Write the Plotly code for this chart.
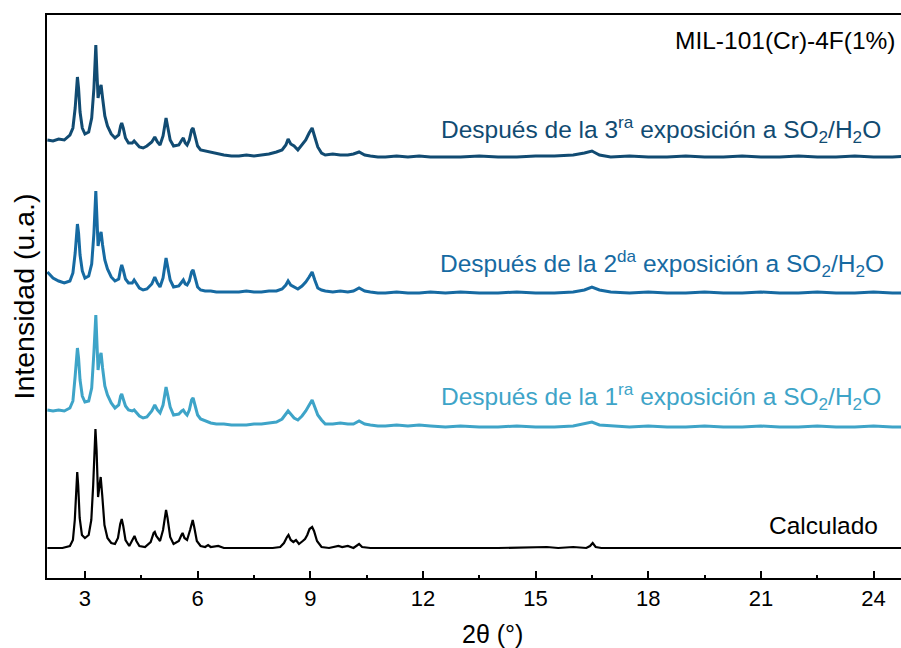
import plotly.graph_objects as go

# 2-theta grid shared by the three measured patterns
two_theta_exp = [
    2.0, 2.15, 2.3, 2.45, 2.6,
    2.68, 2.74, 2.78, 2.8, 2.83, 2.87, 2.93,
    3.0, 3.1, 3.18, 3.24, 3.27, 3.29, 3.32, 3.35, 3.39, 3.43, 3.47, 3.53, 3.6, 3.7, 3.8,
    3.9, 3.95, 3.98, 4.02, 4.08, 4.16,
    4.26, 4.31, 4.37, 4.45, 4.55,
    4.65, 4.78, 4.86, 4.93, 5.0,
    5.08, 5.13, 5.16, 5.2, 5.27, 5.36,
    5.5, 5.58, 5.62, 5.67, 5.72,
    5.78, 5.84, 5.88, 5.93, 6.0, 6.08,
    6.2, 6.35, 6.5, 6.7, 6.9, 7.1, 7.3, 7.5, 7.7, 7.9, 8.1, 8.25,
    8.35, 8.41, 8.48, 8.57, 8.67, 8.78, 8.88, 8.97, 9.05, 9.12, 9.2, 9.3, 9.4,
    9.6, 9.8, 10.0, 10.15, 10.3, 10.45, 10.6, 10.8, 11.0, 11.3, 11.6, 11.9, 12.2,
    12.6, 13.0, 13.5, 14.0, 14.5, 15.0, 15.5, 16.0, 16.3, 16.5, 16.7, 17.0, 17.5, 18.0,
    18.5, 19.0, 19.5, 20.0, 20.5, 21.0, 21.5, 22.0, 22.5, 23.0, 23.5, 24.0, 24.5, 25.0,
]

# stacked intensities (u.a.), after 3rd exposure (top)
int_3ra = [
    438, 437, 439, 438, 443,
    450, 470, 493, 501, 490, 466, 450,
    444, 446, 460, 490, 523, 533, 505, 480, 488, 493, 480, 462, 452, 444, 440,
    443, 452, 455, 450, 440, 435,
    435, 437, 434, 431, 430,
    432, 436, 441, 436, 433,
    442, 456, 460, 452, 438, 432,
    433, 438, 440, 435, 433,
    438, 448, 450, 441, 432, 428,
    427, 426, 424, 423, 422, 422, 423, 422, 423, 424, 426, 428,
    433, 439, 434, 432, 428, 433, 438, 445, 450, 441, 431, 425, 423,
    424, 423, 423, 424, 426, 423, 422, 421, 421, 422, 421, 422, 421,
    421, 421, 422, 421, 421, 422, 422, 423, 425, 427, 423, 421, 422, 421,
    421, 422, 421, 421, 422, 421, 421, 422, 421, 421, 422, 421, 421, 422,
]

int_2da = [
    306, 300, 297, 295, 297,
    305, 325, 346, 354, 345, 323, 307,
    300, 302, 314, 345, 378, 387, 360, 332, 341, 346, 333, 318, 309, 301, 297,
    299, 309, 313, 308, 299, 295,
    295, 298, 294, 290, 288,
    289, 294, 301, 295, 291,
    300, 315, 320, 312, 298, 291,
    292, 296, 298, 294, 293,
    297, 306, 308, 300, 291, 288,
    287, 287, 286, 286, 286, 286, 287, 286, 286, 287, 287, 289,
    293, 297, 293, 291, 289, 292, 296, 301, 306, 298, 290, 288, 287,
    286, 287, 286, 287, 290, 287, 286, 285, 285, 286, 285, 285, 286,
    285, 286, 285, 285, 286, 285, 285, 286, 288, 291, 288, 286, 285, 286,
    285, 285, 286, 285, 285, 286, 285, 285, 286, 285, 285, 286, 285, 285,
]

int_1ra = [
    168, 167, 168, 167, 170,
    177, 202, 223, 230, 220, 198, 182,
    176, 177, 190, 226, 256, 263, 235, 208, 220, 225, 210, 192, 183, 175, 170,
    173, 182, 184, 179, 172, 168,
    167, 168, 165, 162, 160,
    161, 167, 173, 168, 165,
    173, 188, 191, 184, 171, 163,
    164, 167, 168, 165, 163,
    168, 178, 180, 172, 163, 159,
    157, 155, 154, 154, 153, 153, 153, 154, 154, 155, 156, 159,
    164, 167, 164, 160, 158, 162, 167, 173, 178, 171, 163, 158, 154,
    154, 155, 154, 154, 157, 154, 153, 152, 152, 153, 152, 153, 152,
    151, 152, 151, 151, 152, 151, 151, 152, 154, 156, 153, 152, 151, 152,
    151, 151, 152, 151, 151, 152, 151, 151, 152, 151, 151, 152, 151, 151,
]

# calculated pattern
two_theta_calc = [
    2.0, 2.4, 2.6, 2.68, 2.73, 2.77, 2.795, 2.82, 2.86, 2.92,
    3.0, 3.1, 3.17, 3.22, 3.26, 3.28, 3.31, 3.35, 3.39, 3.42,
    3.46, 3.52, 3.6, 3.7, 3.8, 3.88, 3.94, 3.98, 4.02, 4.08,
    4.18, 4.27, 4.32, 4.37, 4.45, 4.6, 4.75, 4.83, 4.86, 4.9,
    5.0, 5.08, 5.13, 5.16, 5.2, 5.27, 5.36, 5.5, 5.57, 5.6,
    5.65, 5.72, 5.8, 5.85, 5.87, 5.91, 5.98, 6.08, 6.2, 6.28,
    6.35, 6.55, 6.7, 7.5, 8.0, 8.2, 8.3, 8.38, 8.42, 8.48,
    8.55, 8.62, 8.7, 8.8, 8.86, 8.92, 8.98, 9.05, 9.1, 9.18,
    9.3, 9.5, 9.75, 9.85, 10.0, 10.15, 10.3, 10.38, 10.6, 12.0,
    14.0, 15.3, 15.6, 16.0, 16.35, 16.45, 16.52, 16.6, 16.75, 18.0,
    20.0, 22.0, 24.0, 25.0,
]
int_calc = [
    30, 30, 32, 38, 58, 93, 106, 93, 60, 43,
    40, 43, 58, 93, 138, 149, 128, 81, 93, 101,
    83, 53, 40, 35, 34, 40, 54, 59, 52, 38,
    32, 38, 42, 37, 32, 31, 36, 45, 46, 42,
    37, 48, 64, 68, 60, 41, 34, 37, 43, 45,
    40, 38, 48, 57, 58, 51, 37, 32, 31, 33,
    31, 32, 30, 30, 30, 31, 35, 41, 43, 38,
    36, 38, 34, 37, 39, 43, 49, 51, 47, 37,
    31, 30, 32, 31, 32, 30, 34, 31, 30, 30,
    30, 31, 30, 31, 30, 32, 35, 31, 30, 30,
    30, 30, 30, 30,
]

x_ticks = [3, 6, 9, 12, 15, 18, 21, 24]

C3 = "#114b72"
C2 = "#166aa2"
C1 = "#3ea4c8"
FONT = "Arial, Liberation Sans, sans-serif"

fig = go.Figure()
series = [
    (two_theta_calc, int_calc, "#000000", 2.2),
    (two_theta_exp, int_1ra, C1, 3.0),
    (two_theta_exp, int_2da, C2, 3.0),
    (two_theta_exp, int_3ra, C3, 3.0),
]
for xs, ys, c, w in series:
    fig.add_trace(go.Scatter(x=xs, y=ys, mode="lines", line=dict(color=c, width=w),
                             showlegend=False, hoverinfo="skip"))

labels = [
    ("MIL-101(Cr)-4F(1%)", "#000000", 24.645, 538),
    ("Después de la 3<sup>ra</sup> exposición a SO<sub>2</sub>/H<sub>2</sub>O", C3, 24.25, 449),
    ("Después de la 2<sup>da</sup> exposición a SO<sub>2</sub>/H<sub>2</sub>O", C2, 24.33, 315),
    ("Después de la 1<sup>ra</sup> exposición a SO<sub>2</sub>/H<sub>2</sub>O", C1, 24.25, 182),
    ("Calculado", "#000000", 24.17, 53),
]
for t, c, x, y in labels:
    fig.add_annotation(x=x, y=y, xref="x", yref="y", text=t, showarrow=False,
                       xanchor="right", yanchor="middle",
                       font=dict(family=FONT, size=24.5, color=c))

# x-axis title (centred on the full, cropped frame of the original)
fig.add_annotation(x=0.522, y=-0.1, xref="paper", yref="paper", text="2θ (°)",
                   showarrow=False, xanchor="center", yanchor="middle",
                   font=dict(family=FONT, size=25, color="black"))

fig.update_layout(
    width=901, height=648,
    margin=dict(l=47, r=0, t=15, b=70),
    paper_bgcolor="white", plot_bgcolor="white",
    font=dict(family=FONT, color="black"),
)
fig.update_xaxes(
    range=[1.99, 24.73], tickvals=x_ticks, ticktext=[str(v) for v in x_ticks],
    ticks="inside", ticklen=7, tickwidth=2, tickcolor="black",
    minor=dict(tickvals=[4.5, 7.5, 10.5, 13.5, 16.5, 19.5, 22.5], ticks="inside",
               ticklen=3, tickwidth=2, tickcolor="black"),
    showline=True, linecolor="black", linewidth=2, mirror=True,
    showgrid=False, zeroline=False,
    tickfont=dict(family=FONT, size=22, color="black"),
)
fig.update_yaxes(
    range=[0, 563], showticklabels=False, ticks="",
    showline=True, linecolor="black", linewidth=2, mirror=False,
    showgrid=False, zeroline=False,
    title=dict(text="Intensidad (u.a.)", font=dict(family=FONT, size=28.5, color="black"), standoff=2),
)

fig.write_html("out.html")
